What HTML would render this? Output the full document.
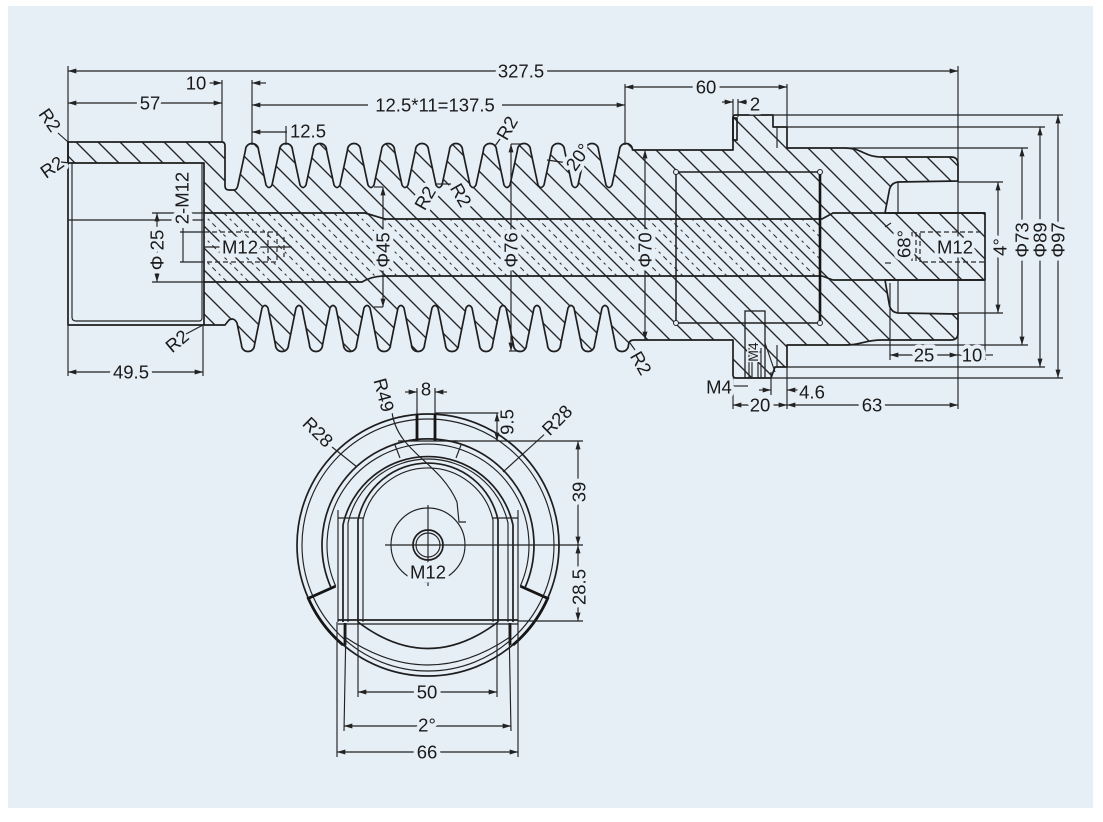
<!DOCTYPE html>
<html><head><meta charset="utf-8"><style>
html,body{margin:0;padding:0;background:#fff;}
svg{display:block;}
.o{stroke:#1e1e1e;stroke-width:1.7;fill:none;stroke-linejoin:round}
.body{stroke:#1e1e1e;stroke-width:1.7;fill:url(#h);stroke-linejoin:round}
.d{stroke:#222;stroke-width:1.15;fill:none}
.da{stroke:#222;stroke-width:1.15;fill:none;marker-start:url(#ar);marker-end:url(#ar)}
.de{stroke:#222;stroke-width:1.15;fill:none;marker-end:url(#ar)}
.k{stroke:#151515;stroke-width:2.8;fill:none}
.dash{stroke:#2a2a2a;stroke-width:1.2;fill:none;stroke-dasharray:5 3}
.bg{fill:#e6eef6;stroke:none}
.t{font-family:"Liberation Sans",sans-serif;font-size:18.5px;fill:#1a1a1a;text-anchor:middle;dominant-baseline:central;stroke:#e6eef6;stroke-width:8;paint-order:stroke;stroke-linejoin:round}
</style></head><body>
<svg width="1103" height="822" viewBox="0 0 1103 822" xmlns="http://www.w3.org/2000/svg">
<defs>
<pattern id="h" patternUnits="userSpaceOnUse" width="22" height="22">
<path d="M-3,-3L25,25M-3,19L3,25M19,-3L25,3" stroke="#262626" stroke-width="1.35"/>
</pattern>
<pattern id="hd" patternUnits="userSpaceOnUse" width="22" height="22">
<path d="M8,-3L25,14M-3,8L14,25" stroke="#333" stroke-width="1.1" stroke-dasharray="5 4"/>
</pattern>
<marker id="ar" viewBox="0 0 10 6" refX="10" refY="3" markerWidth="9" markerHeight="5" markerUnits="userSpaceOnUse" orient="auto-start-reverse">
<path d="M0,0L10,3L0,6z" fill="#222"/>
</marker>
</defs>

<rect x="0" y="0" width="1103" height="822" fill="#ffffff"/>
<rect x="8" y="6" width="1085" height="802" fill="#e6eef6"/>

<!-- ===== Main section body ===== -->
<path class="body" d="M68,142 L222,142 Q225,142 225,146 L225,186 Q225,190 229,190 L234,190 Q237,190 238,185
l7.5,-35 a6.5,6.5 0 0 1 13,0 l7.5,35 q3,5 6,0
l7.5,-35 a6.5,6.5 0 0 1 13,0 l7.5,35 q3,5 6,0
l7.5,-35 a6.5,6.5 0 0 1 13,0 l7.5,35 q3,5 6,0
l7.5,-35 a6.5,6.5 0 0 1 13,0 l7.5,35 q3,5 6,0
l7.5,-35 a6.5,6.5 0 0 1 13,0 l7.5,35 q3,5 6,0
l7.5,-35 a6.5,6.5 0 0 1 13,0 l7.5,35 q3,5 6,0
l7.5,-35 a6.5,6.5 0 0 1 13,0 l7.5,35 q3,5 6,0
l7.5,-35 a6.5,6.5 0 0 1 13,0 l7.5,35 q3,5 6,0
l7.5,-35 a6.5,6.5 0 0 1 13,0 l7.5,35 q3,5 6,0
l7.5,-35 a6.5,6.5 0 0 1 13,0 l7.5,35 q3,5 6,0
l7.5,-35 a6.5,6.5 0 0 1 13,0 l7.5,35 q3,5 6,0
l7.5,-35 a6.5,6.5 0 0 1 13,0
L733,150 L733,117 Q733,115 736,115 L773,115 L773,127 L787,127 L787,148 L845,148 C862,148 864,157 882,157 L951,157 Q958,157 958,164 L958,181 L898,182 Q890,183 889,192 L885,213 L985,213 L985,280 L885,280 L889,303 Q890,312 898,313 L958,314 L958,333 Q958,340 951,340 L882,340 C864,340 862,345 845,345 L787,345 L787,367 L775,367 L771,378 L736,378 Q733,378 733,375 L733,340 L634,340 Q629,340 628.5,345
a6.5,6.5 0 0 1 -13,0
l-7.5,-37 q-3,-5 -6,0 l-7.5,37 a6.5,6.5 0 0 1 -13,0
l-7.5,-37 q-3,-5 -6,0 l-7.5,37 a6.5,6.5 0 0 1 -13,0
l-7.5,-37 q-3,-5 -6,0 l-7.5,37 a6.5,6.5 0 0 1 -13,0
l-7.5,-37 q-3,-5 -6,0 l-7.5,37 a6.5,6.5 0 0 1 -13,0
l-7.5,-37 q-3,-5 -6,0 l-7.5,37 a6.5,6.5 0 0 1 -13,0
l-7.5,-37 q-3,-5 -6,0 l-7.5,37 a6.5,6.5 0 0 1 -13,0
l-7.5,-37 q-3,-5 -6,0 l-7.5,37 a6.5,6.5 0 0 1 -13,0
l-7.5,-37 q-3,-5 -6,0 l-7.5,37 a6.5,6.5 0 0 1 -13,0
l-7.5,-37 q-3,-5 -6,0 l-7.5,37 a6.5,6.5 0 0 1 -13,0
l-7.5,-37 q-3,-5 -6,0 l-7.5,37 a6.5,6.5 0 0 1 -13,0
l-7.5,-37 q-3,-5 -6,0 l-7.5,37 a6.5,6.5 0 0 1 -13,0
L237,323 Q234,317 229,320 L225,325 L204,325 L204,163 L68,163 Z"/>

<!-- bore dashed hatch -->
<path fill="url(#hd)" stroke="none" d="M204,213 L365,213 L385,219 L822,219 L822,276 L385,276 L362,282 L204,282 Z"/>
<path class="o" d="M204,213 L365,213 L385,219 L822,219 L833,213 L985,213"/>
<path class="o" d="M204,282 L362,282 Q372,276 385,276 L822,276 L833,280 L985,280"/>

<!-- cup (left) -->
<path class="o" d="M68,142 L68,325 L204,325"/>
<path class="d" d="M72,163 L72,317 Q72,321 76,321 L199,321 Q202,321 202,318 L202,163"/>
<line class="d" x1="68" y1="220" x2="204" y2="220"/>

<!-- left M12 hole -->
<rect class="dash" x="204" y="232" width="73" height="30"/>
<line class="dash" x1="268" y1="232" x2="268" y2="262"/>
<line class="dash" x1="284" y1="237" x2="284" y2="257"/>
<line class="d" x1="204" y1="247" x2="292" y2="247"/>

<!-- insert rectangle -->
<rect x="676" y="172" width="144" height="151" fill="none" stroke="#1e1e1e" stroke-width="1.5"/>
<line x1="820" y1="172" x2="820" y2="323" stroke="#151515" stroke-width="2.6"/>
<circle cx="676" cy="172" r="2.5" fill="#e6eef6" stroke="#222"/>
<circle cx="676" cy="323" r="2.5" fill="#e6eef6" stroke="#222"/>
<circle cx="820" cy="172" r="2.5" fill="#e6eef6" stroke="#222"/>
<circle cx="820" cy="323" r="2.5" fill="#e6eef6" stroke="#222"/>

<!-- flange details -->
<rect x="733" y="118" width="4" height="22" fill="none" stroke="#151515" stroke-width="1.6"/>
<line class="d" x1="777" y1="127" x2="777" y2="148"/>
<line class="d" x1="777" y1="345" x2="777" y2="367"/>
<rect x="745" y="311" width="20" height="67" fill="none" stroke="#222" stroke-width="1.3"/>
<path class="d" d="M749,348 L749,378 M752,352 L752,378 M758,352 L758,378 M761,348 L761,378 M749,352 L761,352"/>
<path class="d" d="M765,343 L775,372"/>

<!-- right pocket / stub -->
<line class="d" x1="898" y1="182" x2="898" y2="213"/>
<line class="d" x1="898" y1="280" x2="898" y2="313"/>
<rect class="dash" x="920" y="232" width="65" height="30"/>
<line class="dash" x1="912" y1="232" x2="912" y2="262"/>
<line class="dash" x1="916" y1="232" x2="916" y2="262"/>
<line class="d" x1="885" y1="227" x2="891" y2="223"/>
<line class="d" x1="885" y1="263" x2="891" y2="263"/>

<!-- ===== Dimensions (front view) ===== -->
<line class="d" x1="68" y1="66" x2="68" y2="142"/>
<line class="d" x1="958" y1="66" x2="958" y2="409"/>
<line class="da" x1="68" y1="71" x2="958" y2="71"/>
<rect class="bg" x="497" y="62" width="48" height="18"/>
<text class="t" x="521" y="71">327.5</text>

<line class="d" x1="222" y1="80" x2="222" y2="142"/>
<line class="da" x1="68" y1="103" x2="222" y2="103"/>
<text class="t" x="150" y="103">57</text>

<line class="de" x1="206" y1="83" x2="222" y2="83"/>
<text class="t" x="196" y="83">10</text>
<line class="de" x1="266" y1="83" x2="252" y2="83"/>
<line class="d" x1="252" y1="80" x2="252" y2="145"/>

<line class="d" x1="625" y1="84" x2="625" y2="145"/>
<line class="da" x1="252" y1="105" x2="625" y2="105"/>
<rect class="bg" x="368" y="96" width="134" height="18"/>
<text class="t" x="435" y="105">12.5*11=137.5</text>

<line class="de" x1="287" y1="132" x2="252" y2="132"/>
<line class="d" x1="286" y1="126" x2="286" y2="145"/>
<text class="t" x="308" y="131">12.5</text>

<line class="d" x1="787" y1="84" x2="787" y2="127"/>
<line class="da" x1="625" y1="87" x2="787" y2="87"/>
<text class="t" x="706" y="87">60</text>

<line class="d" x1="733" y1="99" x2="733" y2="117"/>
<line class="d" x1="738" y1="99" x2="738" y2="117"/>
<line class="de" x1="722" y1="102" x2="733" y2="102"/>
<line class="de" x1="747" y1="102" x2="738" y2="102"/>
<text class="t" x="755" y="104">2</text>

<!-- left dims -->
<line class="d" x1="68" y1="325" x2="68" y2="376"/>
<line class="d" x1="203" y1="325" x2="203" y2="376"/>
<line class="da" x1="68" y1="372" x2="203" y2="372"/>
<rect class="bg" x="112" y="363" width="38" height="18"/>
<text class="t" x="131" y="372">49.5</text>

<line class="d" x1="152" y1="213" x2="204" y2="213"/>
<line class="d" x1="152" y1="282" x2="204" y2="282"/>
<line class="da" x1="157" y1="213" x2="157" y2="282"/>
<text class="t" x="157" y="250" transform="rotate(-90 157 250)">Φ 25</text>

<line class="d" x1="180" y1="232" x2="204" y2="232"/>
<line class="d" x1="180" y1="262" x2="204" y2="262"/>
<line class="d" x1="183" y1="228" x2="183" y2="262"/>
<text class="t" x="182" y="198" transform="rotate(-90 182 198)">2-M12</text>
<text class="t" x="240" y="247">M12</text>

<!-- R2 labels -->
<text class="t" x="50" y="120" transform="rotate(55 50 120)">R2</text>
<line class="d" x1="58" y1="133" x2="68" y2="142"/>
<text class="t" x="52" y="167" transform="rotate(-35 52 167)">R2</text>
<line class="d" x1="61" y1="162" x2="70" y2="163"/>
<text class="t" x="177" y="341" transform="rotate(-40 177 341)">R2</text>
<line class="d" x1="186" y1="334" x2="203" y2="325"/>

<!-- center dims -->
<line class="d" x1="374" y1="187" x2="383" y2="187"/>
<line class="d" x1="374" y1="307" x2="383" y2="307"/>
<line class="da" x1="383" y1="187" x2="383" y2="307"/>
<text class="t" x="383" y="250" transform="rotate(-90 383 250)">Φ45</text>

<line class="d" x1="511" y1="144" x2="522" y2="144"/>
<line class="d" x1="509" y1="351" x2="520" y2="351"/>
<line class="da" x1="511" y1="144" x2="511" y2="351"/>
<text class="t" x="511" y="250" transform="rotate(-90 511 250)">Φ76</text>

<line class="da" x1="645" y1="150" x2="645" y2="340"/>
<text class="t" x="645" y="250" transform="rotate(-90 645 250)">Φ70</text>

<text class="t" x="507" y="128" transform="rotate(-60 507 128)">R2</text>
<line class="d" x1="500" y1="139" x2="495" y2="146"/>
<text class="t" x="425" y="198" transform="rotate(-60 425 198)">R2</text>
<text class="t" x="461" y="195" transform="rotate(60 461 195)">R2</text>
<line class="d" x1="436" y1="184" x2="451" y2="184"/>
<text class="t" x="641" y="363" transform="rotate(60 641 363)">R2</text>
<line class="d" x1="635" y1="350" x2="630" y2="343"/>
<line class="d" x1="547" y1="160" x2="568" y2="163"/>
<text class="t" x="578" y="157" transform="rotate(-55 578 157)">20°</text>

<!-- right dims -->
<line class="d" x1="773" y1="115" x2="1063" y2="115"/>
<line class="d" x1="787" y1="127" x2="1045" y2="127"/>
<line class="d" x1="845" y1="148" x2="1028" y2="148"/>
<line class="d" x1="845" y1="345" x2="1028" y2="345"/>
<line class="d" x1="787" y1="367" x2="1045" y2="367"/>
<line class="d" x1="771" y1="378" x2="1063" y2="378"/>
<line class="da" x1="1022" y1="148" x2="1022" y2="345"/>
<line class="da" x1="1040" y1="127" x2="1040" y2="367"/>
<line class="da" x1="1058" y1="115" x2="1058" y2="378"/>
<text class="t" x="1022" y="240" transform="rotate(-90 1022 240)">Φ73</text>
<text class="t" x="1040" y="240" transform="rotate(-90 1040 240)">Φ89</text>
<text class="t" x="1058" y="240" transform="rotate(-90 1058 240)">Φ97</text>

<line class="d" x1="958" y1="182" x2="1003" y2="182"/>
<line class="d" x1="958" y1="313" x2="1003" y2="313"/>
<line class="da" x1="998" y1="182" x2="998" y2="313"/>
<text class="t" x="1000" y="247" transform="rotate(-90 1000 247)">4°</text>

<text class="t" x="904" y="244" transform="rotate(-90 904 244)">68°</text>
<text class="t" x="955" y="247">M12</text>

<line class="d" x1="890" y1="283" x2="890" y2="360"/>
<line class="d" x1="985" y1="280" x2="985" y2="360"/>
<line class="da" x1="890" y1="355" x2="958" y2="355"/>
<line class="da" x1="958" y1="355" x2="985" y2="355"/>
<line class="d" x1="985" y1="355" x2="993" y2="355"/>
<text class="t" x="924" y="355">25</text>
<text class="t" x="972" y="355">10</text>

<line class="d" x1="733" y1="378" x2="733" y2="409"/>
<line class="d" x1="787" y1="367" x2="787" y2="409"/>
<line class="d" x1="771" y1="372" x2="771" y2="395"/>
<line class="da" x1="733" y1="405" x2="787" y2="405"/>
<text class="t" x="760" y="405">20</text>
<line class="da" x1="787" y1="405" x2="958" y2="405"/>
<text class="t" x="872" y="405">63</text>
<line class="de" x1="759" y1="390" x2="771" y2="390"/>
<line class="de" x1="798" y1="390" x2="787" y2="390"/>
<text class="t" x="812" y="392">4.6</text>
<line class="d" x1="733" y1="386" x2="748" y2="386"/>
<text class="t" x="719" y="387">M4</text>
<text class="t" x="753" y="352" transform="rotate(-90 753 352)" style="font-size:14px;stroke-width:3">M4</text>

<!-- ===== Bottom (end) view ===== -->
<circle cx="428" cy="545" r="131" class="o"/>
<circle cx="428" cy="545" r="126" class="d"/>
<path class="o" d="M331.2,588.1 A106,106 0 1 1 524.8,588.1"/>
<path class="d" d="M335.7,586.1 A101,101 0 1 1 520.3,586.1"/>
<path class="k" d="M335.7,586.1 L308.3,598.3 A131,131 0 0 0 343,645"/>
<path class="k" d="M520.3,586.1 L547.7,598.3 A131,131 0 0 1 513,645"/>
<line class="k" x1="345" y1="623" x2="345" y2="645"/>
<line class="k" x1="510" y1="623" x2="510" y2="645"/>
<!-- top slot -->
<line class="k" x1="417" y1="414" x2="417" y2="441"/>
<line class="k" x1="435" y1="414" x2="435" y2="441"/>
<path class="d" d="M395,445 L400,458 M461,445 L456,458 M398,441 L458,441"/>
<!-- arches -->
<path class="o" d="M343,622 L343,525 A87,87 0 0 1 513,525 L513,622"/>
<path class="d" d="M348,622 L348,523 A82,82 0 0 1 508,523 L508,622"/>
<path class="o" d="M358,622 L358,520 A71.5,71.5 0 0 1 498,520 L498,622"/>
<path class="d" d="M363,622 L363,520 A66.6,66.6 0 0 1 493,520 L493,622"/>
<path class="d" d="M338,510 L338,622 M518,510 L518,622 M338,518 L363,518 M493,518 L518,518"/>
<line class="o" x1="338" y1="620" x2="518" y2="620"/>
<line class="d" x1="338" y1="624" x2="518" y2="624"/>
<path class="o" d="M358,622 Q428,675 498,622"/>
<path class="d" d="M345,637 Q428,693 510,637"/>
<!-- center -->
<circle cx="428" cy="545" r="37" class="d"/>
<circle cx="428" cy="545" r="15" class="o"/>
<circle cx="428" cy="545" r="12" class="d"/>
<line class="d" x1="428" y1="505" x2="428" y2="586"/>
<line class="d" x1="385" y1="545" x2="583" y2="545"/>
<path class="d" d="M392,412 C397,452 440,462 457,502 L459,522 L466,522"/>
<text class="t" x="428" y="572">M12</text>

<!-- bottom view dims -->
<line class="d" x1="417" y1="388" x2="417" y2="414"/>
<line class="d" x1="435" y1="388" x2="435" y2="414"/>
<line class="de" x1="405" y1="392" x2="417" y2="392"/>
<line class="de" x1="447" y1="392" x2="435" y2="392"/>
<text class="t" x="426" y="389" style="stroke-width:4">8</text>
<text class="t" x="384" y="395" transform="rotate(75 384 395)">R49</text>

<line class="d" x1="435" y1="413" x2="502" y2="413"/>
<line class="d" x1="447" y1="441" x2="583" y2="441"/>
<line class="da" x1="497" y1="413" x2="497" y2="441"/>
<text class="t" x="507" y="422" transform="rotate(-90 507 422)" style="stroke-width:4">9.5</text>

<line class="d" x1="518" y1="621" x2="583" y2="621"/>
<line class="da" x1="578" y1="441" x2="578" y2="545"/>
<line class="da" x1="578" y1="545" x2="578" y2="621"/>
<text class="t" x="579" y="492" transform="rotate(-90 579 492)">39</text>
<rect class="bg" x="570" y="568" width="18" height="38"/>
<text class="t" x="579" y="587" transform="rotate(-90 579 587)">28.5</text>

<line class="d" x1="332" y1="447" x2="357" y2="467"/>
<text class="t" x="318" y="432" transform="rotate(45 318 432)">R28</text>
<line class="d" x1="503" y1="472" x2="547" y2="432"/>
<text class="t" x="557" y="420" transform="rotate(-45 557 420)">R28</text>

<line class="d" x1="337" y1="622" x2="337" y2="757"/>
<line class="d" x1="518" y1="622" x2="518" y2="757"/>
<line class="d" x1="346" y1="624" x2="344" y2="731"/>
<line class="d" x1="509" y1="624" x2="511" y2="731"/>
<line class="d" x1="358" y1="622" x2="358" y2="697"/>
<line class="d" x1="497" y1="622" x2="497" y2="697"/>
<line class="da" x1="358" y1="692" x2="497" y2="692"/>
<text class="t" x="427" y="692">50</text>
<line class="da" x1="344" y1="726" x2="511" y2="726"/>
<text class="t" x="427" y="725">2°</text>
<line class="da" x1="337" y1="752" x2="518" y2="752"/>
<text class="t" x="427" y="752">66</text>
</svg>
</body></html>
